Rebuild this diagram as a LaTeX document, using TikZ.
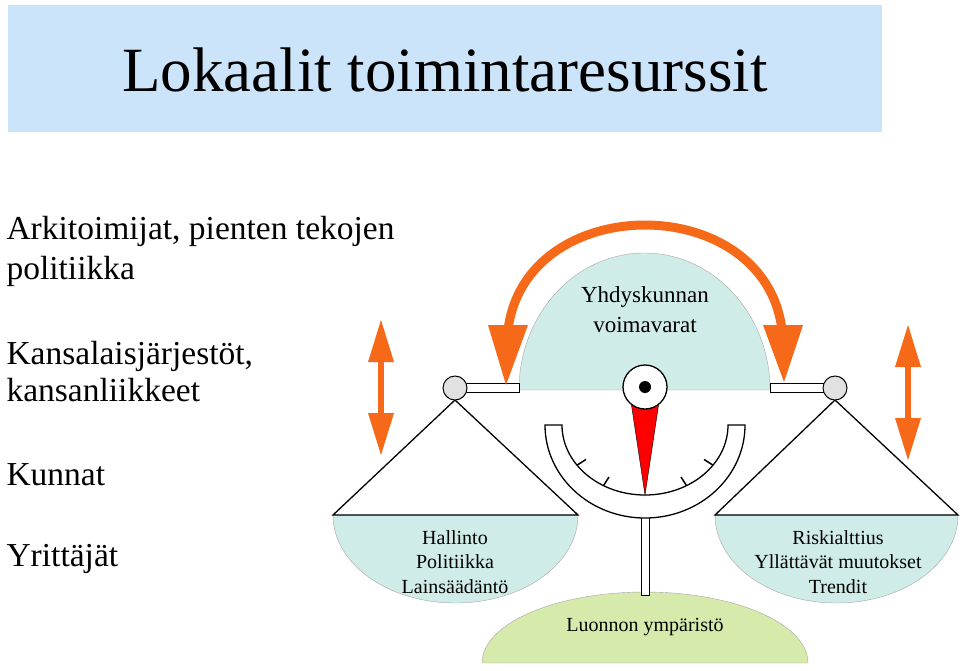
\documentclass[tikz,border=0pt]{standalone}
\usepackage{fontspec}
\setmainfont{Liberation Serif}
\definecolor{titlebg}{RGB}{204,228,250}
\definecolor{teal}{RGB}{208,236,232}
\definecolor{grn}{RGB}{214,234,172}
\definecolor{org}{RGB}{245,105,25}
\definecolor{grayc}{RGB}{225,225,225}
\begin{document}
\begin{tikzpicture}[x=1pt,y=-1pt,
  side/.style={anchor=base west,font=\fontsize{33.5}{36}\selectfont},
  pan/.style={align=center,font=\fontsize{20}{24.5}\selectfont},
  tri/.style={draw=black,line width=1.3pt,fill=white},
  bar/.style={draw=black,line width=0.8pt,fill=white},
  oarrow/.style={org,line width=9pt},
  ohead/.style={fill=org,draw=none}]
\useasboundingbox (0,0) rectangle (960,670);
\fill[titlebg] (8,5) rectangle (882,132);
\node[font=\fontsize{63}{66}\selectfont] (title) at (445,70) {Lokaalit toimintaresurssit};
\node[side] (t1) at (3,239) {Arkitoimijat, pienten tekojen};
\node[side] (t2) at (3,279) {politiikka};
\node[side] (t3) at (3,364) {Kansalaisjärjestöt,};
\node[side] (t4) at (3,401) {kansanliikkeet};
\node[side] (t5) at (3,485) {Kunnat};
\node[side] (t6) at (3,566) {Yrittäjät};
% green mound
\draw[fill=grn,draw=gray!70] (482,663) arc[start angle=180,end angle=360,x radius=163,y radius=71] -- cycle;
% post
\draw[bar] (641,515) rectangle (649,595);
% dome
\draw[fill=teal,draw=gray!70] (519,390) arc[start angle=180,end angle=360,x radius=125.5,y radius=137] -- cycle;
\node[font=\fontsize{23}{30}\selectfont,align=center] (dome) at (645,310) {Yhdyskunnan\\voimavarat};
% bars
\draw[bar] (462,383) rectangle (519,392);
\draw[bar] (770,383) rectangle (828,392);
% orange arc
\draw[oarrow] (508,330) .. controls (525,190) and (765,190) .. (782,330);
\fill[ohead] (488,325) -- (528,325) -- (506,385) -- cycle;
\fill[ohead] (763,325) -- (803,325) -- (784,382) -- cycle;
% side arrows
\draw[org,line width=6pt] (381,355) -- (381,420);
\fill[ohead] (368,362) -- (394,362) -- (381,320) -- cycle;
\fill[ohead] (368,413) -- (394,413) -- (381,455) -- cycle;
\draw[org,line width=6pt] (908,360) -- (908,425);
\fill[ohead] (895,367) -- (921,367) -- (908,325) -- cycle;
\fill[ohead] (895,418) -- (921,418) -- (908,460) -- cycle;
% pans
\draw[fill=teal,draw=gray!70] (333,515) arc[start angle=180,end angle=0,x radius=122.5,y radius=88] -- cycle;
\draw[fill=teal,draw=gray!70] (715,515) arc[start angle=180,end angle=0,x radius=121.5,y radius=88] -- cycle;
\draw[line width=1.3pt] (455,400) -- (333,515) -- (578,515) -- cycle;
\draw[line width=1.3pt] (835,400) -- (715,515) -- (958,515) -- cycle;
\node[pan] (lp) at (455,562) {Hallinto\\Politiikka\\Lainsäädäntö};
\node[pan] (rp) at (838,562) {Riskialttius\\Yllättävät muutokset\\Trendit};
\node[font=\fontsize{20}{22}\selectfont] (nat) at (645,627) {Luonnon ympäristö};
% circles
\draw[fill=grayc,line width=1pt] (455,388) circle[radius=12];
\draw[fill=grayc,line width=1pt] (835,388) circle[radius=12];
% gauge
\draw[line width=1.3pt,fill=white] (545,425) -- (562,425)
  arc[start angle=180,end angle=0,x radius=83,y radius=70] -- (745,425)
  arc[start angle=0,end angle=180,x radius=100,y radius=93] -- cycle;
\foreach \a in {215,240,300,325} {
  \draw[line width=1.5pt] ({645+83*cos(\a)},{425-70*sin(\a)}) -- ({645+72*cos(\a)},{425-60*sin(\a)});
}
\fill[red] (631,402) -- (659,402) -- (645,495) -- cycle;
\draw (631,402) -- (645,495) -- (659,402);
\draw[line width=1.3pt,fill=white] (645,387) circle[radius=22];
\fill (645,387) circle[radius=6];
\end{tikzpicture}
\end{document}
